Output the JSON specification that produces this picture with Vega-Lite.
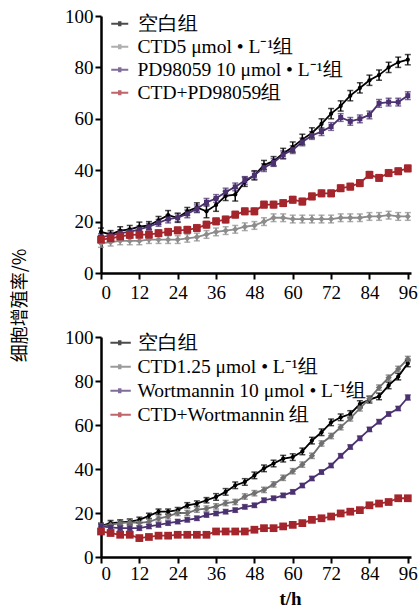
{
"$schema": "https://vega.github.io/schema/vega-lite/v6.json",
"background": "white",
"padding": {"left": 11, "top": 7, "right": 2, "bottom": 2},
"bounds": "flush",
"spacing": 64,
"resolve": {"scale": {"color": "independent"}, "legend": {"color": "independent"}},
"config": {
  "view": {"stroke": null},
  "font": "Liberation Serif",
  "axis": {"grid": false, "domainColor": "black", "domainWidth": 2.5, "tickColor": "black", "tickWidth": 2, "tickSize": 6, "labelFont": "Liberation Serif", "labelFontSize": 19, "labelColor": "black", "labelPadding": 2},
  "legend": {"orient": "none", "padding": 0, "rowPadding": 2, "labelFont": "Liberation Serif", "labelFontSize": 19.5, "labelColor": "black", "labelLimit": 400, "labelOffset": 8, "symbolSize": 289, "symbolStrokeWidth": 2}
},
"datasets": {
"d": [
{"p":"A","s":"a1","t":0,"v":16,"e":1.5},{"p":"A","s":"a1","t":3,"v":15,"e":1.5},{"p":"A","s":"a1","t":6,"v":16.5,"e":1.5},{"p":"A","s":"a1","t":9,"v":17,"e":1.5},{"p":"A","s":"a1","t":12,"v":18,"e":1.8},{"p":"A","s":"a1","t":15,"v":18.5,"e":1.5},{"p":"A","s":"a1","t":18,"v":20.5,"e":1.5},{"p":"A","s":"a1","t":21,"v":22.5,"e":1.8},{"p":"A","s":"a1","t":24,"v":21.5,"e":1.8},{"p":"A","s":"a1","t":27,"v":24,"e":1.5},{"p":"A","s":"a1","t":30,"v":25.5,"e":1.8},{"p":"A","s":"a1","t":33,"v":24,"e":2.5},{"p":"A","s":"a1","t":36,"v":26.5,"e":2.5},{"p":"A","s":"a1","t":39,"v":30,"e":1.8},{"p":"A","s":"a1","t":42,"v":30.5,"e":2.5},{"p":"A","s":"a1","t":45,"v":35.5,"e":1.8},{"p":"A","s":"a1","t":48,"v":38,"e":1.8},{"p":"A","s":"a1","t":51,"v":42,"e":1.8},{"p":"A","s":"a1","t":54,"v":43.5,"e":1.8},{"p":"A","s":"a1","t":57,"v":46.5,"e":2},{"p":"A","s":"a1","t":60,"v":49,"e":2},{"p":"A","s":"a1","t":63,"v":52,"e":2},{"p":"A","s":"a1","t":66,"v":54.5,"e":2},{"p":"A","s":"a1","t":69,"v":58,"e":2},{"p":"A","s":"a1","t":72,"v":62,"e":2},{"p":"A","s":"a1","t":75,"v":65,"e":2},{"p":"A","s":"a1","t":78,"v":69,"e":2},{"p":"A","s":"a1","t":81,"v":72,"e":2},{"p":"A","s":"a1","t":84,"v":75,"e":2},{"p":"A","s":"a1","t":87,"v":77,"e":2},{"p":"A","s":"a1","t":90,"v":80,"e":2},{"p":"A","s":"a1","t":93,"v":82,"e":2},{"p":"A","s":"a1","t":96,"v":83,"e":2},
{"p":"A","s":"a2","t":0,"v":11.5,"e":1.5},{"p":"A","s":"a2","t":3,"v":12,"e":1.5},{"p":"A","s":"a2","t":6,"v":12.5,"e":1.5},{"p":"A","s":"a2","t":9,"v":12.5,"e":1.5},{"p":"A","s":"a2","t":12,"v":12.5,"e":1.5},{"p":"A","s":"a2","t":15,"v":13,"e":1.5},{"p":"A","s":"a2","t":18,"v":13,"e":1.5},{"p":"A","s":"a2","t":21,"v":13,"e":1.5},{"p":"A","s":"a2","t":24,"v":13,"e":1.5},{"p":"A","s":"a2","t":27,"v":13.5,"e":1.5},{"p":"A","s":"a2","t":30,"v":14,"e":1.5},{"p":"A","s":"a2","t":33,"v":15,"e":1.5},{"p":"A","s":"a2","t":36,"v":16,"e":1.5},{"p":"A","s":"a2","t":39,"v":16.5,"e":1.5},{"p":"A","s":"a2","t":42,"v":17,"e":1.5},{"p":"A","s":"a2","t":45,"v":18,"e":1.5},{"p":"A","s":"a2","t":48,"v":18.5,"e":1.5},{"p":"A","s":"a2","t":51,"v":20,"e":1.5},{"p":"A","s":"a2","t":54,"v":21.5,"e":1.5},{"p":"A","s":"a2","t":57,"v":21.5,"e":1.5},{"p":"A","s":"a2","t":60,"v":21,"e":1.5},{"p":"A","s":"a2","t":63,"v":21,"e":1.5},{"p":"A","s":"a2","t":66,"v":21,"e":1.5},{"p":"A","s":"a2","t":69,"v":21,"e":1.5},{"p":"A","s":"a2","t":72,"v":21,"e":1.5},{"p":"A","s":"a2","t":75,"v":21.5,"e":1.5},{"p":"A","s":"a2","t":78,"v":21.5,"e":1.5},{"p":"A","s":"a2","t":81,"v":21.5,"e":1.5},{"p":"A","s":"a2","t":84,"v":22,"e":1.5},{"p":"A","s":"a2","t":87,"v":22,"e":1.5},{"p":"A","s":"a2","t":90,"v":22.5,"e":1.5},{"p":"A","s":"a2","t":93,"v":22,"e":1.5},{"p":"A","s":"a2","t":96,"v":22,"e":1.5},
{"p":"A","s":"a3","t":0,"v":14,"e":1.3},{"p":"A","s":"a3","t":3,"v":14.5,"e":1.3},{"p":"A","s":"a3","t":6,"v":15.5,"e":1.3},{"p":"A","s":"a3","t":9,"v":16,"e":1.3},{"p":"A","s":"a3","t":12,"v":17,"e":1.3},{"p":"A","s":"a3","t":15,"v":18,"e":1.3},{"p":"A","s":"a3","t":18,"v":19.5,"e":1.3},{"p":"A","s":"a3","t":21,"v":21,"e":1.5},{"p":"A","s":"a3","t":24,"v":21.5,"e":1.5},{"p":"A","s":"a3","t":27,"v":23,"e":1.5},{"p":"A","s":"a3","t":30,"v":25,"e":1.5},{"p":"A","s":"a3","t":33,"v":27.5,"e":1.5},{"p":"A","s":"a3","t":36,"v":29,"e":1.5},{"p":"A","s":"a3","t":39,"v":31.5,"e":1.5},{"p":"A","s":"a3","t":42,"v":33.5,"e":1.5},{"p":"A","s":"a3","t":45,"v":36,"e":1.5},{"p":"A","s":"a3","t":48,"v":38,"e":1.5},{"p":"A","s":"a3","t":51,"v":41,"e":1.5},{"p":"A","s":"a3","t":54,"v":43,"e":1.5},{"p":"A","s":"a3","t":57,"v":46,"e":1.5},{"p":"A","s":"a3","t":60,"v":48,"e":1.5},{"p":"A","s":"a3","t":63,"v":51,"e":1.5},{"p":"A","s":"a3","t":66,"v":53.5,"e":1.5},{"p":"A","s":"a3","t":69,"v":55,"e":1.5},{"p":"A","s":"a3","t":72,"v":57,"e":1.5},{"p":"A","s":"a3","t":75,"v":60.5,"e":1.5},{"p":"A","s":"a3","t":78,"v":59,"e":1.5},{"p":"A","s":"a3","t":81,"v":60,"e":1.5},{"p":"A","s":"a3","t":84,"v":61.5,"e":1.5},{"p":"A","s":"a3","t":87,"v":66,"e":1.5},{"p":"A","s":"a3","t":90,"v":66.5,"e":1.5},{"p":"A","s":"a3","t":93,"v":66.5,"e":1.5},{"p":"A","s":"a3","t":96,"v":69,"e":1.5},
{"p":"A","s":"a4","t":0,"v":13,"e":1.3},{"p":"A","s":"a4","t":3,"v":13.5,"e":1.3},{"p":"A","s":"a4","t":6,"v":14.2,"e":1.3},{"p":"A","s":"a4","t":9,"v":14.8,"e":1.3},{"p":"A","s":"a4","t":12,"v":14.9,"e":1.3},{"p":"A","s":"a4","t":15,"v":14.9,"e":1.3},{"p":"A","s":"a4","t":18,"v":15.5,"e":1.3},{"p":"A","s":"a4","t":21,"v":16,"e":1.3},{"p":"A","s":"a4","t":24,"v":16.6,"e":1.3},{"p":"A","s":"a4","t":27,"v":16.8,"e":1.3},{"p":"A","s":"a4","t":30,"v":17.5,"e":1.3},{"p":"A","s":"a4","t":33,"v":18.8,"e":1.3},{"p":"A","s":"a4","t":36,"v":20.1,"e":1.3},{"p":"A","s":"a4","t":39,"v":20.8,"e":1.3},{"p":"A","s":"a4","t":42,"v":22.7,"e":1.3},{"p":"A","s":"a4","t":45,"v":24,"e":1.3},{"p":"A","s":"a4","t":48,"v":24,"e":1.3},{"p":"A","s":"a4","t":51,"v":26.6,"e":1.3},{"p":"A","s":"a4","t":54,"v":26.6,"e":1.3},{"p":"A","s":"a4","t":57,"v":27.2,"e":1.3},{"p":"A","s":"a4","t":60,"v":28.5,"e":1.3},{"p":"A","s":"a4","t":63,"v":27.8,"e":1.3},{"p":"A","s":"a4","t":66,"v":29.8,"e":1.3},{"p":"A","s":"a4","t":69,"v":31,"e":1.3},{"p":"A","s":"a4","t":72,"v":31,"e":1.3},{"p":"A","s":"a4","t":75,"v":33,"e":1.3},{"p":"A","s":"a4","t":78,"v":33.6,"e":1.3},{"p":"A","s":"a4","t":81,"v":35,"e":1.3},{"p":"A","s":"a4","t":84,"v":38.2,"e":1.3},{"p":"A","s":"a4","t":87,"v":37,"e":1.3},{"p":"A","s":"a4","t":90,"v":38.9,"e":1.3},{"p":"A","s":"a4","t":93,"v":39.6,"e":1.3},{"p":"A","s":"a4","t":96,"v":40.7,"e":1.3},
{"p":"B","s":"b1","t":0,"v":14.2,"e":1.2},{"p":"B","s":"b1","t":3,"v":15.4,"e":1.2},{"p":"B","s":"b1","t":6,"v":15.7,"e":1.2},{"p":"B","s":"b1","t":9,"v":16.1,"e":1.2},{"p":"B","s":"b1","t":12,"v":16.9,"e":1.2},{"p":"B","s":"b1","t":15,"v":18.7,"e":1.2},{"p":"B","s":"b1","t":18,"v":20.6,"e":1.2},{"p":"B","s":"b1","t":21,"v":20.6,"e":1.2},{"p":"B","s":"b1","t":24,"v":21.3,"e":1.2},{"p":"B","s":"b1","t":27,"v":23.5,"e":1.2},{"p":"B","s":"b1","t":30,"v":24.3,"e":1.2},{"p":"B","s":"b1","t":33,"v":25.8,"e":1.2},{"p":"B","s":"b1","t":36,"v":27.3,"e":1.5},{"p":"B","s":"b1","t":39,"v":29.6,"e":1.5},{"p":"B","s":"b1","t":42,"v":32.6,"e":1.5},{"p":"B","s":"b1","t":45,"v":34.1,"e":1.5},{"p":"B","s":"b1","t":48,"v":37.1,"e":1.5},{"p":"B","s":"b1","t":51,"v":40.3,"e":1.5},{"p":"B","s":"b1","t":54,"v":42.5,"e":1.5},{"p":"B","s":"b1","t":57,"v":44.7,"e":1.5},{"p":"B","s":"b1","t":60,"v":45.4,"e":1.5},{"p":"B","s":"b1","t":63,"v":48,"e":1.5},{"p":"B","s":"b1","t":66,"v":52.9,"e":1.5},{"p":"B","s":"b1","t":69,"v":56.7,"e":1.5},{"p":"B","s":"b1","t":72,"v":61.2,"e":1.5},{"p":"B","s":"b1","t":75,"v":63.5,"e":1.5},{"p":"B","s":"b1","t":78,"v":65,"e":1.5},{"p":"B","s":"b1","t":81,"v":69.5,"e":1.5},{"p":"B","s":"b1","t":84,"v":71.5,"e":1.5},{"p":"B","s":"b1","t":87,"v":73,"e":1.5},{"p":"B","s":"b1","t":90,"v":78,"e":1.5},{"p":"B","s":"b1","t":93,"v":82,"e":1.5},{"p":"B","s":"b1","t":96,"v":88,"e":1.5},
{"p":"B","s":"b2","t":0,"v":14,"e":1.2},{"p":"B","s":"b2","t":3,"v":14.6,"e":1.2},{"p":"B","s":"b2","t":6,"v":15.4,"e":1.2},{"p":"B","s":"b2","t":9,"v":15.7,"e":1.2},{"p":"B","s":"b2","t":12,"v":15.5,"e":1.2},{"p":"B","s":"b2","t":15,"v":16,"e":1.2},{"p":"B","s":"b2","t":18,"v":17.5,"e":1.2},{"p":"B","s":"b2","t":21,"v":18.5,"e":1.2},{"p":"B","s":"b2","t":24,"v":20,"e":1.2},{"p":"B","s":"b2","t":27,"v":20,"e":1.2},{"p":"B","s":"b2","t":30,"v":21.5,"e":1.2},{"p":"B","s":"b2","t":33,"v":22,"e":1.2},{"p":"B","s":"b2","t":36,"v":23,"e":1.2},{"p":"B","s":"b2","t":39,"v":24.5,"e":1.2},{"p":"B","s":"b2","t":42,"v":25,"e":1.2},{"p":"B","s":"b2","t":45,"v":27.5,"e":1.2},{"p":"B","s":"b2","t":48,"v":29,"e":1.2},{"p":"B","s":"b2","t":51,"v":30.5,"e":1.2},{"p":"B","s":"b2","t":54,"v":33,"e":1.2},{"p":"B","s":"b2","t":57,"v":36,"e":1.2},{"p":"B","s":"b2","t":60,"v":39,"e":1.2},{"p":"B","s":"b2","t":63,"v":42,"e":1.2},{"p":"B","s":"b2","t":66,"v":46,"e":1.2},{"p":"B","s":"b2","t":69,"v":51.6,"e":1.2},{"p":"B","s":"b2","t":72,"v":55,"e":1.2},{"p":"B","s":"b2","t":75,"v":59,"e":1.2},{"p":"B","s":"b2","t":78,"v":63,"e":1.2},{"p":"B","s":"b2","t":81,"v":67.6,"e":1.2},{"p":"B","s":"b2","t":84,"v":72,"e":1.2},{"p":"B","s":"b2","t":87,"v":77,"e":1.2},{"p":"B","s":"b2","t":90,"v":81.5,"e":1.2},{"p":"B","s":"b2","t":93,"v":85.5,"e":1.2},{"p":"B","s":"b2","t":96,"v":90,"e":1.2},
{"p":"B","s":"b3","t":0,"v":13.9,"e":1},{"p":"B","s":"b3","t":3,"v":13.5,"e":1},{"p":"B","s":"b3","t":6,"v":13.1,"e":1},{"p":"B","s":"b3","t":9,"v":13.1,"e":1},{"p":"B","s":"b3","t":12,"v":13.1,"e":1},{"p":"B","s":"b3","t":15,"v":13.9,"e":1},{"p":"B","s":"b3","t":18,"v":14.6,"e":1},{"p":"B","s":"b3","t":21,"v":15.4,"e":1},{"p":"B","s":"b3","t":24,"v":16.1,"e":1},{"p":"B","s":"b3","t":27,"v":16.9,"e":1},{"p":"B","s":"b3","t":30,"v":17.6,"e":1},{"p":"B","s":"b3","t":33,"v":19.1,"e":1},{"p":"B","s":"b3","t":36,"v":19.8,"e":1},{"p":"B","s":"b3","t":39,"v":20.6,"e":1},{"p":"B","s":"b3","t":42,"v":21.3,"e":1},{"p":"B","s":"b3","t":45,"v":22.8,"e":1},{"p":"B","s":"b3","t":48,"v":23.5,"e":1},{"p":"B","s":"b3","t":51,"v":25.8,"e":1},{"p":"B","s":"b3","t":54,"v":26.7,"e":1},{"p":"B","s":"b3","t":57,"v":28,"e":1},{"p":"B","s":"b3","t":60,"v":29.6,"e":1},{"p":"B","s":"b3","t":63,"v":32.5,"e":1},{"p":"B","s":"b3","t":66,"v":35.7,"e":1},{"p":"B","s":"b3","t":69,"v":38.6,"e":1},{"p":"B","s":"b3","t":72,"v":41.6,"e":1},{"p":"B","s":"b3","t":75,"v":46,"e":1},{"p":"B","s":"b3","t":78,"v":50,"e":1},{"p":"B","s":"b3","t":81,"v":54,"e":1},{"p":"B","s":"b3","t":84,"v":58,"e":1},{"p":"B","s":"b3","t":87,"v":61.5,"e":1},{"p":"B","s":"b3","t":90,"v":65,"e":1},{"p":"B","s":"b3","t":93,"v":67.5,"e":1},{"p":"B","s":"b3","t":96,"v":72.5,"e":1.2},
{"p":"B","s":"b4","t":0,"v":11.6,"e":1},{"p":"B","s":"b4","t":3,"v":10.9,"e":1},{"p":"B","s":"b4","t":6,"v":10.1,"e":1},{"p":"B","s":"b4","t":9,"v":10.1,"e":1},{"p":"B","s":"b4","t":12,"v":8.6,"e":1},{"p":"B","s":"b4","t":15,"v":9.1,"e":1},{"p":"B","s":"b4","t":18,"v":9.7,"e":1},{"p":"B","s":"b4","t":21,"v":9.7,"e":1},{"p":"B","s":"b4","t":24,"v":10.1,"e":1},{"p":"B","s":"b4","t":27,"v":10.1,"e":1},{"p":"B","s":"b4","t":30,"v":10.1,"e":1},{"p":"B","s":"b4","t":33,"v":10.1,"e":1},{"p":"B","s":"b4","t":36,"v":11.6,"e":1},{"p":"B","s":"b4","t":39,"v":11.6,"e":1},{"p":"B","s":"b4","t":42,"v":11.6,"e":1},{"p":"B","s":"b4","t":45,"v":11.6,"e":1},{"p":"B","s":"b4","t":48,"v":12.4,"e":1},{"p":"B","s":"b4","t":51,"v":13.1,"e":1},{"p":"B","s":"b4","t":54,"v":13.1,"e":1},{"p":"B","s":"b4","t":57,"v":13.9,"e":1},{"p":"B","s":"b4","t":60,"v":14.6,"e":1},{"p":"B","s":"b4","t":63,"v":15.4,"e":1},{"p":"B","s":"b4","t":66,"v":16.9,"e":1},{"p":"B","s":"b4","t":69,"v":17.6,"e":1},{"p":"B","s":"b4","t":72,"v":18.4,"e":1},{"p":"B","s":"b4","t":75,"v":19.8,"e":1},{"p":"B","s":"b4","t":78,"v":20.6,"e":1},{"p":"B","s":"b4","t":81,"v":21.3,"e":1},{"p":"B","s":"b4","t":84,"v":23.5,"e":1},{"p":"B","s":"b4","t":87,"v":24.3,"e":1},{"p":"B","s":"b4","t":90,"v":25,"e":1},{"p":"B","s":"b4","t":93,"v":26.7,"e":1},{"p":"B","s":"b4","t":96,"v":26.7,"e":1}
]
},
"data": {"name": "d"},
"vconcat": [
{
  "width": 310, "height": 257,
  "transform": [{"filter": "datum.p == 'A'"}],
  "encoding": {
    "x": {"field": "t", "type": "quantitative", "scale": {"domain": [0, 97], "nice": false}, "axis": {"values": [0,12,24,36,48,60,72,84,96], "title": null, "labelPadding": 4}},
    "y": {"field": "v", "type": "quantitative", "scale": {"domain": [0, 100], "nice": false}, "axis": {"values": [0,20,40,60,80,100], "title": null}},
    "color": {"field": "s", "type": "nominal", "scale": {"domain": ["a1","a2","a3","a4"], "range": ["#000000","#8c8c8c","#4b3170","#a4262c"]},
      "legend": {"legendX": 9, "legendY": -2, "rowPadding": 2, "symbolType": "M-1,0L1,0M-0.2,-0.18L0.2,-0.18M-0.2,-0.09L0.2,-0.09M-0.2,0L0.2,0M-0.2,0.09L0.2,0.09M-0.2,0.18L0.2,0.18", "labelExpr": "{'a1':'空白组','a2':'CTD5 μmol • L⁻¹组','a3':'PD98059 10 μmol • L⁻¹组','a4':'CTD+PD98059组'}[datum.label]", "title": null}}
  },
  "layer": [
    {"mark": {"type": "line", "strokeWidth": 1.8}, "encoding": {}},
    {"mark": {"type": "errorbar", "ticks": {"size": 6, "thickness": 1.5}, "thickness": 1.5}, "encoding": {"yError": {"field": "e"}}},
    {"transform": [{"filter": "datum.s == 'a1'"}], "mark": {"type": "point", "filled": true, "opacity": 1, "shape": "circle", "size": 18}, "encoding": {}},
    {"transform": [{"filter": "datum.s == 'a2'"}], "mark": {"type": "point", "filled": true, "opacity": 1, "shape": "diamond", "size": 40}, "encoding": {}},
    {"transform": [{"filter": "datum.s == 'a3'"}], "mark": {"type": "point", "filled": true, "opacity": 1, "shape": "square", "size": 25}, "encoding": {}},
    {"transform": [{"filter": "datum.s == 'a4'"}], "mark": {"type": "point", "filled": true, "opacity": 1, "shape": "square", "size": 60}, "encoding": {}}
  ]
},
{
  "width": 310, "height": 220,
  "transform": [{"filter": "datum.p == 'B'"}],
  "encoding": {
    "x": {"field": "t", "type": "quantitative", "scale": {"domain": [0, 97], "nice": false}, "axis": {"values": [0,12,24,36,48,60,72,84,96], "title": "t/h", "labelPadding": 1, "titleFont": "Liberation Serif", "titleFontSize": 19, "titleFontWeight": "bold", "titleColor": "black", "titleX": 189, "titleY": 41, "titleBaseline": "middle", "titleAlign": "center"}},
    "y": {"field": "v", "type": "quantitative", "scale": {"domain": [0, 100], "nice": false}, "axis": {"values": [0,20,40,60,80,100], "title": "细胞增殖率/%", "titleFont": "Noto Sans CJK SC", "titleFontSize": 18, "titleFontWeight": "normal", "titleColor": "black", "titleX": -81, "titleY": -32, "titleAngle": -90, "titleAlign": "center", "titleBaseline": "middle"}},
    "color": {"field": "s", "type": "nominal", "scale": {"domain": ["b1","b2","b3","b4"], "range": ["#000000","#707070","#4b3170","#a4262c"]},
      "legend": {"legendX": 9, "legendY": -4, "rowPadding": 3, "symbolType": "M-1.1,0L1.3,0M-0.2,-0.18L0.2,-0.18M-0.2,-0.09L0.2,-0.09M-0.2,0L0.2,0M-0.2,0.09L0.2,0.09M-0.2,0.18L0.2,0.18", "labelExpr": "{'b1':'空白组','b2':'CTD1.25 μmol • L⁻¹组','b3':'Wortmannin 10 μmol • L⁻¹组','b4':'CTD+Wortmannin 组'}[datum.label]", "title": null}}
  },
  "layer": [
    {"mark": {"type": "line", "strokeWidth": 1.8}, "encoding": {}},
    {"mark": {"type": "errorbar", "ticks": {"size": 6, "thickness": 1.5}, "thickness": 1.5}, "encoding": {"yError": {"field": "e"}}},
    {"transform": [{"filter": "datum.s == 'b1'"}], "mark": {"type": "point", "filled": true, "opacity": 1, "shape": "circle", "size": 18}, "encoding": {}},
    {"transform": [{"filter": "datum.s == 'b2'"}], "mark": {"type": "point", "filled": true, "opacity": 1, "shape": "diamond", "size": 40}, "encoding": {}},
    {"transform": [{"filter": "datum.s == 'b3'"}], "mark": {"type": "point", "filled": true, "opacity": 1, "shape": "square", "size": 25}, "encoding": {}},
    {"transform": [{"filter": "datum.s == 'b4'"}], "mark": {"type": "point", "filled": true, "opacity": 1, "shape": "square", "size": 60}, "encoding": {}}
  ]
}
]
}
